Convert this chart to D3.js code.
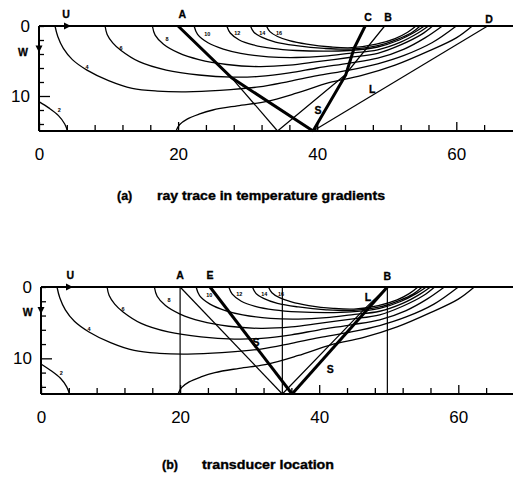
<!DOCTYPE html>
<html lang="en">
<head>
<meta charset="UTF-8">
<script src="https://cdnjs.cloudflare.com/ajax/libs/d3/7.8.5/d3.min.js"></script>
<style>
    body { margin: 0; background: #fff; }
    svg { display: block; }
</style>
</head>
<body>
<svg id="svg1" width="513" height="478"></svg>
<script>
    // axis ticks
    const xTicks = d3.range(0, 65, 4);
    const xLabels = [0, 20, 40, 60];
    const yTicks = d3.range(0, 15, 2);
    const yLabels = [0, 10];

    // isotherms (x, w depth) - same field in both panels
    const isoLevels = ["2", "4", "6", "8", "10", "12", "14", "16"];
    const iso2 = [[0, 10.8], [1.4, 11.7], [2.8, 12.8], [3.7, 14], [4.1, 15]];
    const iso4 = [[2.3, 0], [2.7, 1.5], [3.5, 3.2], [4.8, 4.8], [6.9, 6.3], [10, 7.8], [13.4, 8.9], [17, 9.3], [21.1, 9.4], [26, 9.2], [31.6, 8.7], [36, 7.9], [40, 7.1], [44.6, 6.3], [48.7, 5.4], [52.5, 4.2], [56.5, 2.4], [60, 0]];
    const iso6 = [[9.5, 0], [9.8, 1.2], [10.6, 2.4], [11.8, 3.5], [14.4, 5.1], [18.3, 6.3], [23, 7], [27.8, 7.3], [31.7, 7.2], [36, 6.7], [40, 6.0], [44.6, 5.3], [48.7, 4.6], [52.5, 3.3], [55.5, 1.7], [58, 0]];
    const iso8 = [[16.3, 0], [16.7, 1.3], [17.9, 2.6], [20, 3.8], [23, 4.8], [27, 5.5], [31.6, 5.8], [36, 5.6], [40, 5.1], [44.6, 4.5], [48.7, 3.9], [52, 2.7], [55, 1.2], [56.6, 0]];
    const iso10 = [[22.3, 0], [22.8, 1.2], [24.3, 2.4], [26.5, 3.3], [29, 3.9], [33, 4.4], [37, 4.5], [41, 4.3], [44.6, 3.9], [48.7, 3.4], [52, 2.3], [54.5, 1.0], [56, 0]];
    const iso12 = [[27, 0], [27.5, 1.0], [28.8, 2.0], [30.8, 2.7], [33.5, 3.2], [37, 3.5], [41, 3.6], [44.6, 3.5], [48.7, 3.0], [51.8, 2.0], [54, 0.9], [55.4, 0]];
    const iso14 = [[30.4, 0], [30.9, 0.9], [32, 1.6], [34, 2.3], [37, 2.8], [41, 3.2], [44.6, 3.3], [48.7, 2.8], [51.5, 1.9], [53.5, 1.0], [54.8, 0]];
    const iso16 = [[32.7, 0], [33.2, 0.8], [34.3, 1.5], [36, 2.1], [38.5, 2.6], [42, 3.0], [45, 3.1], [48.5, 2.6], [51.2, 1.8], [53, 0.9], [54.2, 0]];
    const isoOuter = [[19.7, 15], [20.2, 14.1], [21.3, 13.3], [23, 12.6], [25, 12], [28.5, 11.4], [32.6, 10.8], [37, 9.6], [41.7, 8.1], [46.3, 7.1], [51.2, 5.6], [56, 3.6], [60, 1.7], [62.3, 0]];
    const isoLabelAt = [[2.9, 12], [6.9, 5.9], [11.8, 3.1], [18.4, 1.9], [24.2, 1.1], [28.5, 1.0], [32.1, 1.0], [34.5, 1.0]];

    // panel (a) rays
    const raysA_thick = [
        [[20, 0], [27.7, 7.4], [39.4, 15]],
        [[46.9, 0], [45.3, 3.2], [44.1, 7], [39.4, 15]]
    ];
    const raysA_thin = [
        [[27.7, 7.4], [34.3, 15]],
        [[34.3, 15], [44, 7], [49.7, 0]],
        [[64.5, 0], [39.4, 15]]
    ];
    const lettersA = [["U", 3.9, -1.7], ["W", -2.3, 3.7], ["A", 20.6, -1.7], ["C", 47.3, -1.3], ["B", 50.2, -1.3], ["D", 64.7, -0.9], ["L", 47.9, 9.1], ["S", 40.1, 12]];

    // panel (b) rays
    const raysB_thick = [
        [[24.3, 0], [36.1, 15]],
        [[36.1, 15], [49.8, 0]]
    ];
    const raysB_thin = [
        [[20, 0], [20, 15]],
        [[34.7, 0], [34.7, 15]],
        [[49.8, 0], [49.8, 15]],
        [[20, 0], [34.7, 15]],
        [[34.7, 15], [46.6, 3], [49.8, 0]]
    ];
    const lettersB = [["U", 4.2, -1.7], ["W", -1.9, 3.6], ["A", 20, -1.7], ["E", 24.3, -1.7], ["B", 49.8, -1.5], ["L", 47, 1.5], ["S", 41.6, 11.6], ["S", 30.9, 7.7]];

    let svgElement = d3.select("#svg1");
    const isoAll = [iso2, iso4, iso6, iso8, iso10, iso12, iso14, iso16, isoOuter];

    function drawPanel(left, top, bottom, thick, thin, letters, tag, caption, capX, capY, capLen) {
        let x = d3.scaleLinear().domain([0, 68]).range([left, left + 68 * 6.955]);
        let y = d3.scaleLinear().domain([0, 15]).range([top, bottom]);
        let g = svgElement.append("g");

        let curve = d3.line().x(d => x(d[0])).y(d => y(d[1])).curve(d3.curveCatmullRom.alpha(0.5));
        let straight = d3.line().x(d => x(d[0])).y(d => y(d[1]));

        g.selectAll(".iso").data(isoAll).enter().append("path")
            .attr("d", curve)
            .attr("fill", "none")
            .attr("stroke", "#000")
            .attr("stroke-width", 1.3);

        g.selectAll(".isolab").data(isoLevels).enter().append("text")
            .attr("x", (d, i) => x(isoLabelAt[i][0]))
            .attr("y", (d, i) => y(isoLabelAt[i][1]))
            .attr("dy", "0.35em")
            .attr("text-anchor", "middle")
            .attr("font-size", 5.5)
            .attr("font-weight", "bold")
            .attr("fill", "#000")
            .attr("font-family", "Liberation Sans, Arial, sans-serif")
            .text(d => d);

        g.selectAll(".thin").data(thin).enter().append("path")
            .attr("d", straight)
            .attr("fill", "none")
            .attr("stroke", "#000")
            .attr("stroke-width", 1.2);

        g.selectAll(".thick").data(thick).enter().append("path")
            .attr("d", straight)
            .attr("fill", "none")
            .attr("stroke", "#000")
            .attr("stroke-width", 3);

        // frame
        g.append("line").attr("x1", x(0)).attr("x2", 513).attr("y1", y(0)).attr("y2", y(0))
            .attr("stroke", "#000").attr("stroke-width", 2);
        g.append("line").attr("x1", x(0)).attr("x2", 513).attr("y1", y(15)).attr("y2", y(15))
            .attr("stroke", "#000").attr("stroke-width", 2);
        g.append("line").attr("x1", x(0)).attr("x2", x(0)).attr("y1", y(0)).attr("y2", y(15))
            .attr("stroke", "#000").attr("stroke-width", 2);

        let xAxis = d3.axisBottom(x).tickValues(xTicks).tickSize(-5).tickPadding(17)
            .tickFormat(d => xLabels.includes(d) ? d : "");
        g.append("g").attr("transform", "translate(0," + y(15) + ")").call(xAxis)
            .call(a => a.select(".domain").remove())
            .call(a => a.selectAll(".tick line").attr("y2", d => xLabels.includes(d) ? -9 : -6).attr("stroke-width", 1.3))
            .call(a => a.selectAll("text").attr("font-size", 17).attr("font-family", "Liberation Sans, Arial, sans-serif"));

        let yAxis = d3.axisLeft(y).tickValues(yTicks).tickSize(-5).tickPadding(9)
            .tickFormat(d => yLabels.includes(d) ? d : "");
        g.append("g").attr("transform", "translate(" + x(0) + ",0)").call(yAxis)
            .call(a => a.select(".domain").remove())
            .call(a => a.selectAll(".tick line").attr("x2", d => d === 10 ? 11 : 5).attr("stroke-width", 1.3))
            .call(a => a.selectAll("text").attr("font-size", 17).attr("font-family", "Liberation Sans, Arial, sans-serif"));

        // U and W arrowheads
        let ux = x(4.6), uy = y(0);
        g.append("path").attr("d", `M${ux},${uy} L${ux - 7},${uy - 3.5} L${ux - 7},${uy + 3.5} Z`).attr("fill", "#000");
        let wx = x(0), wy = y(3.8);
        g.append("path").attr("d", `M${wx},${wy} L${wx - 3.5},${wy - 7} L${wx + 3.5},${wy - 7} Z`).attr("fill", "#000");

        g.selectAll(".letter").data(letters).enter().append("text")
            .attr("x", d => x(d[1]))
            .attr("y", d => y(d[2]))
            .attr("dy", "0.35em")
            .attr("text-anchor", "middle")
            .attr("font-size", 10.5)
            .attr("font-weight", "bold")
            .attr("stroke", "#000").attr("stroke-width", 0.3)
            .attr("font-family", "Liberation Sans, Arial, sans-serif")
            .text(d => d[0]);

        g.append("text").attr("x", capX).attr("y", capY).attr("dy", "0.35em")
            .attr("font-size", 12.5).attr("font-weight", "bold")
            .attr("stroke", "#000").attr("stroke-width", 0.35)
            .attr("font-family", "Liberation Sans, Arial, sans-serif")
            .text(tag);
        g.append("text").attr("x", capX + 40).attr("y", capY).attr("dy", "0.35em")
            .attr("font-size", 12.5).attr("font-weight", "bold")
            .attr("stroke", "#000").attr("stroke-width", 0.35)
            .attr("font-family", "Liberation Sans, Arial, sans-serif")
            .attr("textLength", capLen).attr("lengthAdjust", "spacingAndGlyphs")
            .text(caption);
    }

    drawPanel(39, 26, 131, raysA_thick, raysA_thin, lettersA, "(a)", "ray trace in temperature gradients", 117, 196, 228);
    drawPanel(41, 287, 394, raysB_thick, raysB_thin, lettersB, "(b)", "transducer location", 162, 465, 132);
</script>
</body>
</html>
